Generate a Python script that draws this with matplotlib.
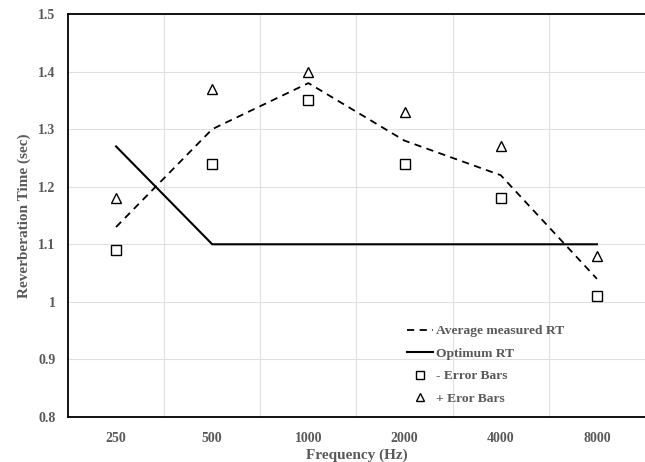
import numpy as np
import matplotlib.pyplot as plt

# data
freqs = ['250', '500', '1000', '2000', '4000', '8000']
avg_rt = [1.13, 1.30, 1.38, 1.28, 1.22, 1.04]
optimum_rt = [1.27, 1.10, 1.10, 1.10, 1.10, 1.10]
minus_err = [1.09, 1.24, 1.35, 1.24, 1.18, 1.01]
plus_err = [1.18, 1.37, 1.40, 1.33, 1.27, 1.08]

plt.rcParams['font.family'] = ['Liberation Serif', 'DejaVu Serif']
grey = '#595959'

fig = plt.figure(figsize=(6.45, 4.62), dpi=100)
ax = fig.add_axes([0.1054, 0.0974, 0.8946, 0.8723])

x = np.arange(len(freqs))
ax.plot(x, avg_rt, ls=(0, (4, 3)), color='black', lw=1.3, label='Average measured RT')
ax.plot(x, optimum_rt, ls='-', color='black', lw=1.5, label='Optimum RT')
ax.plot(x, minus_err, ls='none', marker='s', ms=7, mfc='white', mec='black', mew=1.0,
        label='- Error Bars')
ax.plot(x, plus_err, ls='none', marker='^', ms=7, mfc='white', mec='black', mew=1.0,
        label='+ Eror Bars')

ax.set_xlim(-0.5, len(freqs) - 0.5)
ax.set_ylim(0.8, 1.5)
ax.set_xticks(x)
ax.set_xticklabels(freqs)
ax.set_yticks(np.arange(0.8, 1.51, 0.1))
ax.set_yticklabels(['0.8', '0.9', '1', '1.1', '1.2', '1.3', '1.4', '1.5'])

# grid: horizontal at y ticks, vertical between categories
ax.set_xticks(x[:-1] + 0.5, minor=True)
ax.grid(axis='y', which='major', color='#e0e0e0', lw=0.8)
ax.grid(axis='x', which='minor', color='#e0e0e0', lw=0.8)
ax.set_axisbelow(True)
ax.tick_params(which='both', length=0)
ax.tick_params(axis='x', pad=11)
ax.tick_params(axis='y', pad=9)
for lab in ax.get_xticklabels() + ax.get_yticklabels():
    lab.set_fontweight('bold')
    lab.set_color(grey)
    lab.set_fontsize(10)

for side in ['left', 'bottom', 'top']:
    ax.spines[side].set_color('black')
    ax.spines[side].set_linewidth(1.3)
ax.spines['right'].set_visible(False)

ax.set_xlabel('Frequency (Hz)', fontsize=11, fontweight='bold', color=grey, labelpad=2)
ax.set_ylabel('Reverberation Time (sec)', fontsize=11, fontweight='bold', color=grey, labelpad=5)

leg = ax.legend(loc='lower left', bbox_to_anchor=(0.5875, 0.03), frameon=False,
                prop={'weight': 'bold', 'size': 9.7}, handlelength=1.9,
                labelspacing=0.75, handletextpad=0.25, markerscale=0.75,
                borderpad=0, borderaxespad=0)
for t in leg.get_texts():
    t.set_color(grey)

fig.savefig('out.png', dpi=100)
